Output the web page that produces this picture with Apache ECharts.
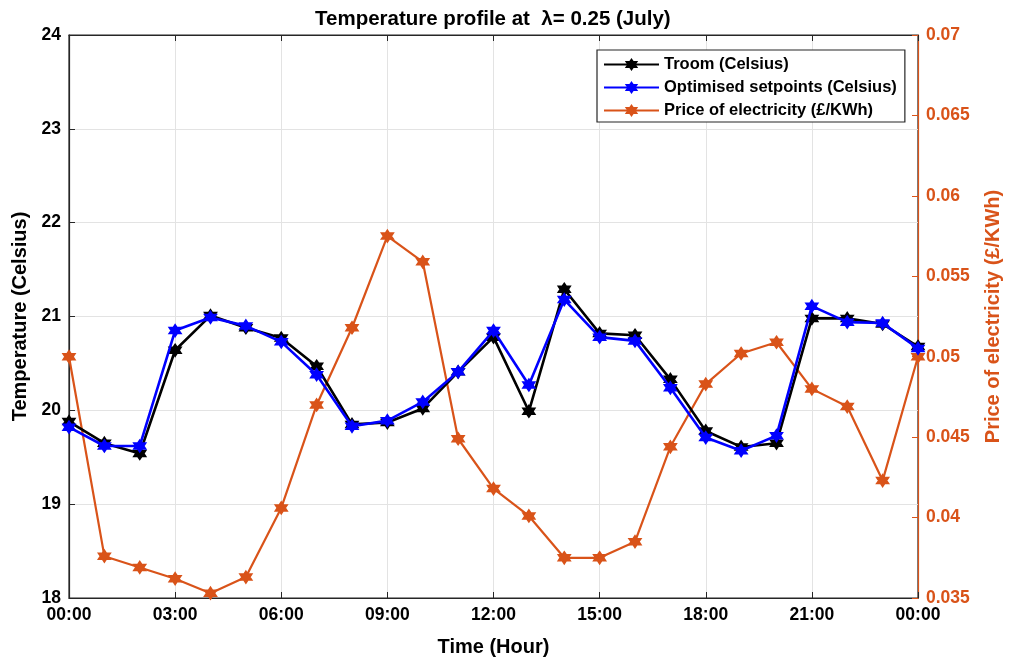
<!DOCTYPE html>
<html>
<head>
<meta charset="utf-8">
<script src="https://cdn.jsdelivr.net/npm/echarts@6/dist/echarts.min.js"></script>
<style>
html,body{margin:0;padding:0;background:#fff;}
#chart{width:1017px;height:657px;}
</style>
</head>
<body>
<div id="chart"></div>
<script>
const hours = [0,1,2,3,4,5,6,7,8,9,10,11,12,13,14,15,16,17,18,19,20,21,22,23,24];
const troom = [19.88,19.65,19.54,20.64,21.01,20.88,20.77,20.47,19.85,19.87,20.02,20.41,20.78,19.99,21.29,20.82,20.80,20.33,19.78,19.61,19.65,20.98,20.98,20.92,20.68];
const setpoints = [19.82,19.62,19.62,20.85,20.99,20.90,20.73,20.38,19.83,19.89,20.09,20.41,20.85,20.27,21.18,20.78,20.74,20.24,19.71,19.57,19.73,21.11,20.94,20.93,20.66];
const price = [0.0500,0.0376,0.0369,0.0362,0.0353,0.0363,0.0406,0.0470,0.0518,0.0575,0.0559,0.0449,0.0418,0.0401,0.0375,0.0375,0.0385,0.0444,0.0483,0.0502,0.0509,0.0480,0.0469,0.0423,0.0500];
const seriesNames = ['Troom (Celsius)','Optimised setpoints (Celsius)','Price of electricity (£/KWh)'];
const titleText = 'Temperature profile at  \u03bb= 0.25 (July)';

const FONT = '"Liberation Sans", Arial, Helvetica, sans-serif';
const ORANGE = '#D95319';
const AX = '#262626';
const star = 'path://M10 0L12.887 5L18.66 5L15.77 10L18.66 15L12.887 15L10 20L7.113 15L1.34 15L4.23 10L1.34 5L7.113 5Z';

function pairs(vals){ return hours.map((h,i)=>[h, vals[i]]); }
function hh(v){ const h = v % 24; return (h<10?'0':'') + h + ':00'; }

const chart = echarts.init(document.getElementById('chart'), null, {renderer:'canvas'});
chart.setOption({
  animation:false,
  backgroundColor:'#fff',
  textStyle:{fontFamily:FONT},
  title:{text:titleText,left:310,top:4,
    textStyle:{fontFamily:FONT,fontWeight:'bold',fontSize:20.5,color:'#000'}},
  legend:{
    data:seriesNames, orient:'vertical', left:597, top:50,
    itemWidth:55, itemHeight:12, itemGap:6,
    borderColor:'#262626', borderWidth:1.2, padding:[6,8,3,6],
    backgroundColor:'#fff',
    textStyle:{fontFamily:FONT,fontWeight:'bold',fontSize:16.5,color:'#000'}
  },
  grid:{left:69,right:99,top:35,bottom:59,containLabel:false,outerBoundsMode:'none',
    show:true,borderColor:AX,borderWidth:1.2,backgroundColor:'transparent'},
  xAxis:[{
    type:'value', min:0, max:24, interval:3,
    name:'Time (Hour)', nameLocation:'middle', nameGap:39,
    nameTextStyle:{fontFamily:FONT,fontWeight:'bold',fontSize:20,color:'#000'},
    axisLine:{show:true,onZero:false,lineStyle:{color:AX,width:1.2}},
    axisTick:{show:true,inside:true,length:6,lineStyle:{color:AX}},
    axisLabel:{formatter:hh,fontFamily:FONT,fontWeight:'bold',fontSize:17.5,color:'#000',margin:8},
    splitLine:{show:true,lineStyle:{color:'#e3e3e3',width:1}}
  },{
    type:'value', min:0, max:24, interval:3, position:'top',
    axisLine:{show:true,onZero:false,lineStyle:{color:AX,width:1.2}},
    axisTick:{show:true,inside:true,length:6,lineStyle:{color:AX}},
    axisLabel:{show:false}, splitLine:{show:false}
  }],
  yAxis:[{
    type:'value', min:18, max:24, interval:1, position:'left',
    name:'Temperature (Celsius)', nameLocation:'middle', nameGap:31,
    nameTextStyle:{fontFamily:FONT,fontWeight:'bold',fontSize:20,color:'#000'},
    axisLine:{show:true,onZero:false,lineStyle:{color:AX,width:1.2}},
    axisTick:{show:true,inside:true,length:6,lineStyle:{color:AX}},
    axisLabel:{fontFamily:FONT,fontWeight:'bold',fontSize:17.5,color:'#000',margin:8},
    splitLine:{show:true,lineStyle:{color:'#e3e3e3',width:1}}
  },{
    type:'value', min:0.035, max:0.07, interval:0.005, position:'right',
    name:'Price of electricity (£/KWh)', nameLocation:'middle', nameGap:65, nameRotate:90,
    nameTextStyle:{fontFamily:FONT,fontWeight:'bold',fontSize:20,color:ORANGE},
    axisLine:{show:true,onZero:false,lineStyle:{color:ORANGE,width:1.2}},
    axisTick:{show:true,inside:true,length:6,lineStyle:{color:ORANGE}},
    axisLabel:{formatter:v=>String(parseFloat(v.toFixed(4))),fontFamily:FONT,fontWeight:'bold',fontSize:17.5,color:ORANGE,margin:8},
    splitLine:{show:false}
  }],
  series:[{
    name:seriesNames[0], type:'line', xAxisIndex:0, yAxisIndex:0, data:pairs(troom),
    symbol:star, symbolSize:12, showAllSymbol:true,
    lineStyle:{color:'#000',width:2.6}, itemStyle:{color:'#000',borderColor:'#000',borderWidth:1.5}, z:3
  },{
    name:seriesNames[1], type:'line', xAxisIndex:0, yAxisIndex:0, data:pairs(setpoints),
    symbol:star, symbolSize:12, showAllSymbol:true,
    lineStyle:{color:'#0000FF',width:2.6}, itemStyle:{color:'#0000FF',borderColor:'#0000FF',borderWidth:1.5}, z:4
  },{
    name:seriesNames[2], type:'line', xAxisIndex:0, yAxisIndex:1, data:pairs(price),
    symbol:star, symbolSize:12, showAllSymbol:true,
    lineStyle:{color:ORANGE,width:2.2}, itemStyle:{color:ORANGE,borderColor:ORANGE,borderWidth:1.5}, z:2
  }]
});
</script>
</body>
</html>
